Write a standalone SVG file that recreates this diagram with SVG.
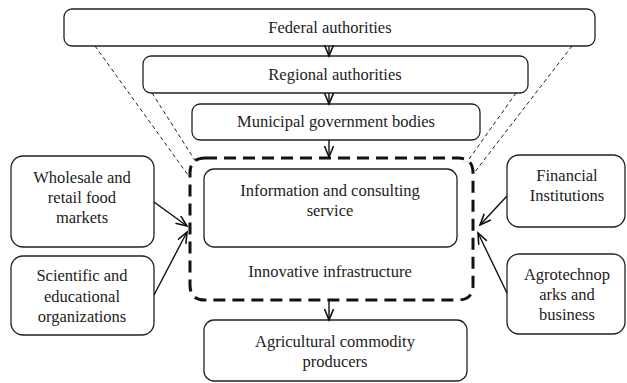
<svg xmlns="http://www.w3.org/2000/svg" width="627" height="383" viewBox="0 0 627 383">
<style>
.box{fill:#fff;stroke:#222;stroke-width:1.3}
.t{font-family:"Liberation Serif","DejaVu Serif","Times New Roman",serif;font-size:16.5px;fill:#222;text-anchor:middle}
.thin{fill:none;stroke:#222;stroke-width:1;stroke-dasharray:4 3}
.con{fill:none;stroke:#111;stroke-width:1.4}
.infra{fill:none;stroke:#111;stroke-width:3;stroke-dasharray:12 7}
</style>
<defs>
<marker id="ah" markerUnits="userSpaceOnUse" markerWidth="14" markerHeight="12" refX="12" refY="5" orient="auto">
<path d="M1,0.5 L12,5 L1,9.5" fill="none" stroke="#111" stroke-width="1.6"/>
</marker>
</defs>
<rect width="627" height="383" fill="#fff"/>
<g id="guides">
<line class="thin" x1="95" y1="46" x2="188" y2="175"/>
<line class="thin" x1="152" y1="93" x2="196" y2="162"/>
<line class="thin" x1="572" y1="46" x2="474" y2="173"/>
<line class="thin" x1="516" y1="93" x2="467" y2="162"/>
</g>
<g id="federal"><rect class="box" x="64" y="9" width="531" height="37" rx="8"/><text class="t" x="330" y="33">Federal authorities</text></g>
<g id="regional"><rect class="box" x="143" y="56" width="385" height="37" rx="8"/><text class="t" x="335" y="80">Regional authorities</text></g>
<g id="municipal"><rect class="box" x="192" y="104" width="288" height="36" rx="8"/><text class="t" x="336" y="127">Municipal government bodies</text></g>
<g id="infrastructure">
<path class="infra" d="M205,158 L458,158 Q473,158 473,173 L473,285 Q473,300 458,300 L205,300 Q190,300 190,285 L190,173 Q190,158 205,158 Z"/>
<text class="t" x="330" y="277">Innovative infrastructure</text>
</g>
<g id="info"><rect class="box" x="204" y="169" width="253" height="78" rx="10"/><text class="t" x="330" y="196">Information and consulting</text><text class="t" x="330" y="216">service</text></g>
<g id="agri"><rect class="box" x="204" y="320" width="263" height="61" rx="10"/><text class="t" x="335" y="347">Agricultural commodity</text><text class="t" x="335" y="367">producers</text></g>
<g id="wholesale"><rect class="box" x="11" y="156" width="143" height="91" rx="12"/><text class="t" x="82" y="183">Wholesale and</text><text class="t" x="82" y="203">retail food</text><text class="t" x="82" y="223">markets</text></g>
<g id="scientific"><rect class="box" x="11" y="256" width="143" height="79" rx="12"/><text class="t" x="82" y="281">Scientific and</text><text class="t" x="82" y="302">educational</text><text class="t" x="82" y="322">organizations</text></g>
<g id="financial"><rect class="box" x="507" y="155" width="118" height="72" rx="12"/><text class="t" x="567" y="181">Financial</text><text class="t" x="567" y="201">Institutions</text></g>
<g id="agrotech"><rect class="box" x="507" y="254" width="118" height="80" rx="12"/><text class="t" x="567" y="280">Agrotechnop</text><text class="t" x="567" y="300">arks and</text><text class="t" x="567" y="320">business</text></g>
<g id="connectors">
<line class="con" x1="329" y1="46" x2="329" y2="56" marker-end="url(#ah)"/>
<line class="con" x1="329" y1="93" x2="329" y2="104" marker-end="url(#ah)"/>
<line class="con" x1="329" y1="140" x2="329" y2="157" marker-end="url(#ah)"/>
<line class="con" x1="329" y1="300" x2="329" y2="320" marker-end="url(#ah)"/>
<line class="con" x1="154" y1="202" x2="187" y2="226" marker-end="url(#ah)"/>
<line class="con" x1="154" y1="295" x2="187" y2="232" marker-end="url(#ah)"/>
<line class="con" x1="507" y1="196" x2="480" y2="225" marker-end="url(#ah)"/>
<line class="con" x1="507" y1="293" x2="478" y2="233" marker-end="url(#ah)"/>
</g>
</svg>
